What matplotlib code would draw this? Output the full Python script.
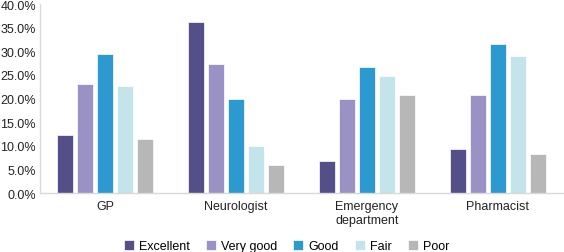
import numpy as np
import matplotlib.pyplot as plt
from matplotlib.ticker import FuncFormatter

plt.rcParams['font.family'] = ['Liberation Sans', 'DejaVu Sans']

categories = ['GP', 'Neurologist', 'Emergency\ndepartment', 'Pharmacist']
ratings = ['Excellent', 'Very good', 'Good', 'Fair', 'Poor']
excellent = [12.3, 36.2, 6.7, 9.3]
very_good = [23.1, 27.3, 19.9, 20.8]
good = [29.5, 19.9, 26.7, 31.6]
fair = [22.7, 9.9, 24.8, 29.1]
poor = [11.4, 6.0, 20.8, 8.2]
series = [excellent, very_good, good, fair, poor]
colors = ['#544E89', '#9A91C4', '#2C9AD1', '#C3E4EA', '#B7B7B7']

fig = plt.figure(figsize=(5.64, 2.53), dpi=100)
ax = fig.add_axes([0.071, 0.233, 0.927, 0.747])

x = np.arange(len(categories))
step = 0.153
width = 0.1225
for i, (vals, name) in enumerate(zip(series, ratings)):
    ax.bar(x + (i - 2) * step, vals, width, color=colors[i], label=name,
           edgecolor='white', linewidth=0.5)

ax.set_xlim(-0.5, 3.5)
ax.set_ylim(0, 40)
ax.set_yticks(np.arange(0, 41, 5))
ax.yaxis.set_major_formatter(FuncFormatter(lambda v, p: f'{v:.1f}%'))
ax.set_xticks(x)
ax.set_xticklabels(categories)
ax.tick_params(length=0, labelsize=9, colors='#222222')
ax.tick_params(axis='y', pad=3)
ax.tick_params(axis='x', pad=5)
for s in ['top', 'right']:
    ax.spines[s].set_visible(False)
for s in ['left', 'bottom']:
    ax.spines[s].set_color('#D9D9D9')
    ax.spines[s].set_linewidth(1.0)

fig.legend(loc='lower center', bbox_to_anchor=(0.508, -0.045), ncol=5, frameon=False,
           fontsize=9, handlelength=0.8, handleheight=0.8, handletextpad=0.4,
           columnspacing=1.3)

fig.savefig('out.png', dpi=100)
